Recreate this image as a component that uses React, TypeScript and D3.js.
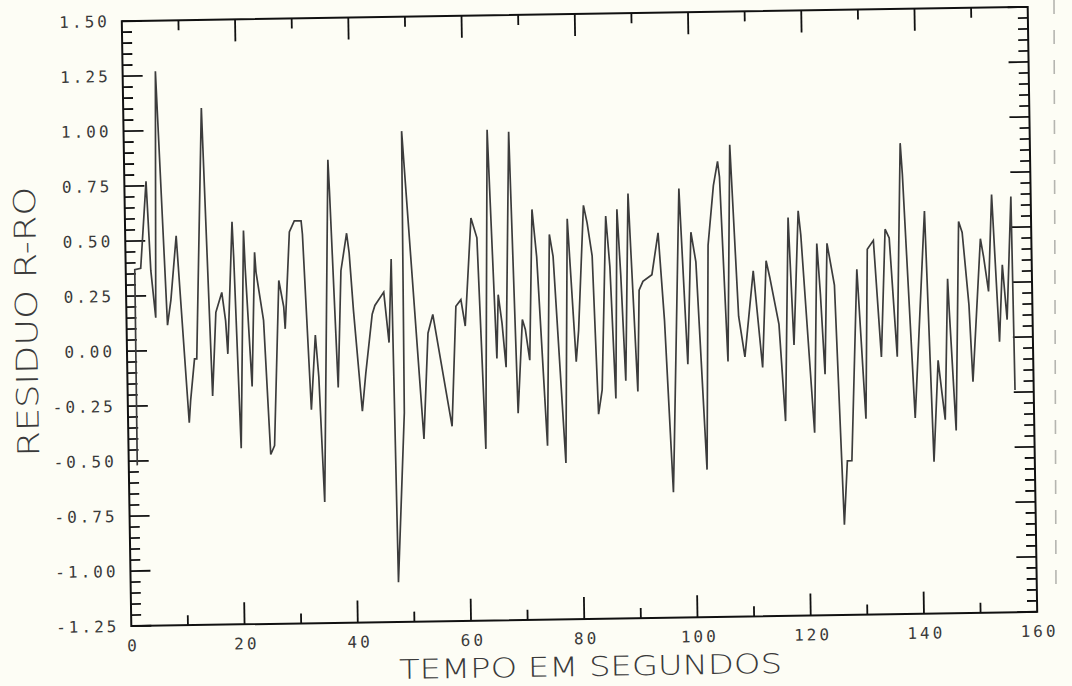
import React from "react";
import * as d3 from "d3";

// time (s) of each plotted sample
const times = [
  1.5, 1.6, 2.65, 3.83, 4.43, 5.17, 5.79, 7.23, 7.9, 9.0,
  10.8, 11.1, 11.9, 12.3, 13.8, 15.0, 15.8, 16.9, 17.5, 17.8,
  18.9, 19.1, 19.9, 20.9, 21.1, 22.0, 22.8, 23.0, 24.2, 25.1,
  25.8, 27.0, 27.8, 28.0, 29.0, 29.9, 31.1, 31.3, 32.4, 33.3,
  33.8, 34.5, 36.0, 36.2, 37.2, 38.0, 39.1, 39.5, 40.1, 41.4,
  42.1, 43.4, 43.9, 45.5, 46.3, 46.9, 47.3, 48.8, 49.1, 52.2,
  53.2, 54.1, 57.2, 58.2, 59.1, 59.8, 61.1, 62.1, 63.1, 64.2,
  65.3, 65.7, 66.3, 66.9, 68.0, 68.9, 69.9, 70.4, 71.1, 71.9,
  72.6, 74.0, 74.9, 75.5, 77.2, 78.1, 79.3, 79.8, 81.0, 81.6,
  82.4, 83.1, 83.8, 84.9, 85.5, 86.2, 86.9, 87.4, 88.0, 88.9,
  90.1, 90.6, 91.3, 92.9, 94.1, 95.0, 96.1, 96.4, 97.9, 99.0,
  99.9, 100.7, 102.1, 102.9, 104.0, 104.8, 105.1, 106.1, 107.0, 108.1,
  109.1, 110.8, 112.2, 113.1, 113.7, 115.2, 116.1, 117.1, 117.8, 118.9,
  119.3, 121.2, 122.1, 122.6, 123.2, 123.9, 125.1, 126.2, 126.9, 127.7,
  129.1, 130.3, 131.0, 132.1, 133.2, 134.2, 134.9, 136.0, 137.1, 137.4,
  139.0, 141.2, 142.2, 143.2, 143.8, 144.3, 145.1, 145.3, 146.2, 147.2,
  147.8, 148.8, 149.3, 151.0, 151.5, 152.3, 153.1, 154.1, 154.8, 155.5,
  156.5, 156.7,
];

// residual R-RO at each time
const residuals = [
  -0.52, 0.37, 0.375, 0.77, 0.365, 0.15, 1.27, 0.115, 0.23, 0.52,
  -0.33, -0.23, -0.04, -0.04, 1.10, -0.21, 0.17, 0.26, 0.13, -0.02,
  0.58, 0.42, -0.45, 0.54, 0.37, -0.17, 0.44, 0.35, 0.13, -0.48,
  -0.44, 0.31, 0.19, 0.09, 0.53, 0.58, 0.58, 0.52, -0.28, 0.06,
  -0.13, -0.70, 0.855, 0.71, -0.18, 0.35, 0.52, 0.43, 0.17, -0.29,
  -0.12, 0.15, 0.19, 0.25, 0.02, 0.40, -1.07, -0.30, 0.98, -0.42,
  0.06, 0.145, -0.365, 0.18, 0.21, 0.09, 0.58, 0.49, -0.47, 0.98,
  -0.06, 0.23, 0.10, -0.10, 0.97, -0.31, 0.115, 0.07, -0.07, 0.615,
  0.40, -0.46, 0.50, 0.40, -0.54, 0.57, -0.08, 0.06, 0.63, 0.55,
  0.40, -0.32, -0.21, 0.58, 0.35, -0.25, 0.61, 0.31, -0.17, 0.68,
  -0.22, 0.24, 0.28, 0.31, 0.50, 0.10, -0.68, -0.46, 0.70, -0.10,
  0.50, 0.365, -0.58, 0.44, 0.71, 0.82, 0.75, -0.09, 0.895, 0.115,
  -0.07, 0.32, -0.12, 0.365, 0.29, 0.075, -0.365, 0.56, -0.02, 0.59,
  0.48, -0.42, 0.44, 0.21, -0.155, 0.44, 0.25, -0.84, -0.55, -0.55,
  0.32, -0.36, 0.41, 0.45, -0.08, 0.50, 0.46, -0.08, 0.89, 0.75,
  -0.36, 0.58, -0.56, -0.10, -0.25, -0.37, 0.27, 0.13, -0.42, 0.53,
  0.48, 0.15, -0.20, 0.45, 0.37, 0.21, 0.65, -0.02, 0.33, 0.08,
  0.64, -0.24,
];

const yTickValues = [1.5, 1.25, 1.0, 0.75, 0.5, 0.25, 0.0, -0.25, -0.5, -0.75, -1.0, -1.25];
const yTickLabels = ["1.50", "1.25", "1.00", "0.75", "0.50", "0.25", "0.00", "-0.25", "-0.50", "-0.75", "-1.00", "-1.25"];
const xTickValues = [0, 20, 40, 60, 80, 100, 120, 140, 160];
const xTickLabels = ["0", "20", "40", "60", "80", "100", "120", "140", "160"];
const xTitle = "TEMPO EM SEGUNDOS";
const yTitle = "RESIDUO R-RO";

export default function App() {
  const W = 1072;
  const H = 686;
  const left = 126.5;
  const right = 1032.5;
  const top = 14;
  const bottom = 619;
  const cx = (left + right) / 2;
  const cy = (top + bottom) / 2;

  const x = d3.scaleLinear().domain([0, 160]).range([left, right]);
  const y = d3.scaleLinear().domain([-1.25, 1.5]).range([bottom, top]);

  const pts = times.map((t, i) => [t, residuals[i]] as [number, number]);
  const linePath = d3
    .line<[number, number]>()
    .x((d) => x(d[0]))
    .y((d) => y(d[1]))(pts) as string;

  const yMinor = d3.range(0, 56).map((i) => -1.25 + i * 0.05);
  const isMajorY = (v: number) => Math.abs(Math.round(v / 0.25) * 0.25 - v) < 1e-6;
  const xMinor = d3.range(10, 160, 10);

  const ink = "#111";
  const textInk = "#3a3a3a";

  return (
    <svg
      width={W}
      height={H}
      style={{ position: "fixed", left: 0, top: 0, background: "#fdfdf5" }}
    >
      <rect x={0} y={0} width={W} height={H} fill="#fdfdf5" />
      <line x1={1054} y1={0} x2={1056} y2={592} stroke="#b5b5b0" strokeWidth={1.6} strokeDasharray="14 16" />
      <g transform={`rotate(-0.9 ${cx} ${cy})`}>
        {/* frame */}
        <rect x={left} y={top} width={right - left} height={bottom - top} fill="none" stroke={ink} strokeWidth={2} />
        {/* left & right ticks */}
        {yMinor.map((v, i) => {
          const len = isMajorY(v) ? 20 : 10;
          return (
            <g key={`yt${i}`}>
              <line x1={left} x2={left + len} y1={y(v)} y2={y(v)} stroke={ink} strokeWidth={1.8} />
              <line x1={right} x2={right - len} y1={y(v)} y2={y(v)} stroke={ink} strokeWidth={1.8} />
            </g>
          );
        })}
        {/* top & bottom ticks */}
        {xMinor.map((t) => {
          const len = t % 20 === 0 ? 22 : 10;
          return (
            <g key={`xt${t}`}>
              <line x1={x(t)} x2={x(t)} y1={bottom} y2={bottom - len} stroke={ink} strokeWidth={1.8} />
              <line x1={x(t)} x2={x(t)} y1={top} y2={top + len} stroke={ink} strokeWidth={1.8} />
            </g>
          );
        })}
        {/* data */}
        <path d={linePath} fill="none" stroke="#3c3c3c" strokeWidth={1.7} strokeLinejoin="miter" strokeMiterlimit={4} />
        {/* y tick labels */}
        {yTickValues.map((v, i) => (
          <text
            key={`yl${i}`}
            x={left - 12}
            y={y(v)}
            dy="0.36em"
            textAnchor="end"
            fontFamily="DejaVu Sans Mono"
            fontSize={16}
            letterSpacing={3}
            fill={textInk}
          >
            {yTickLabels[i]}
          </text>
        ))}
        {/* x tick labels */}
        {xTickValues.map((t, i) => (
          <text
            key={`xl${i}`}
            x={x(t) + 2}
            y={bottom + 25}
            textAnchor="middle"
            fontFamily="DejaVu Sans Mono"
            fontSize={16}
            letterSpacing={3}
            fill={textInk}
          >
            {xTickLabels[i]}
          </text>
        ))}
        {/* axis titles */}
        <text
          x={585}
          y={676}
          textAnchor="middle"
          fontFamily="DejaVu Sans"
          fontWeight={300}
          fontSize={27}
          textLength={383}
          lengthAdjust="spacingAndGlyphs"
          fill={textInk}
        >
          {xTitle}
        </text>
        <text
          transform={`translate(37 ${313}) rotate(-90)`}
          x={0}
          y={0}
          textAnchor="middle"
          fontFamily="DejaVu Sans"
          fontWeight={300}
          fontSize={30}
          textLength={270}
          lengthAdjust="spacingAndGlyphs"
          fill={textInk}
        >
          {yTitle}
        </text>
      </g>
    </svg>
  );
}
